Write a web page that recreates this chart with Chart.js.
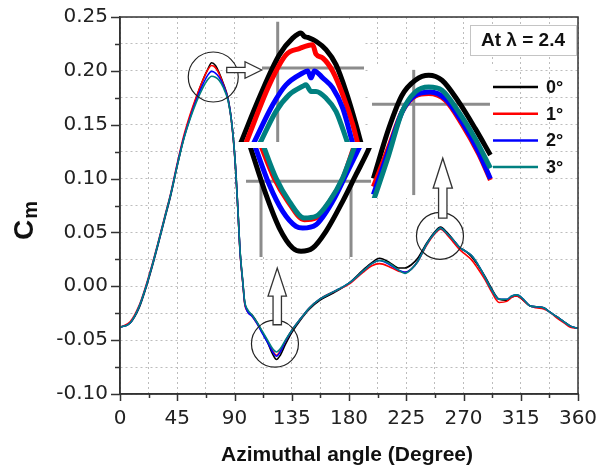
<!DOCTYPE html>
<html>
<head>
<meta charset="utf-8">
<title>Cm vs azimuthal angle</title>
<script src="https://cdn.jsdelivr.net/npm/chart.js@4.4.1/dist/chart.umd.min.js"></script>
<style>
  body { margin: 0; background: #fff; }
  #wrap { position: relative; width: 596px; height: 468px; }
  #wrap canvas { position: absolute; left: 0; top: 0; }
</style>
</head>
<body>
<div id="wrap">
  <canvas id="cmChart" width="596" height="468"></canvas>
  <canvas id="peakInset"></canvas>
  <canvas id="troughInset"></canvas>
  <canvas id="humpInset"></canvas>
</div>
<script>
// Moment coefficient over one revolution, four pitch angles
const angles = [
  0, 8, 15, 20, 25, 30, 35, 40, 45, 50, 55, 60,
  65, 69, 72, 75, 78, 81, 85, 88, 90.5, 92.5, 94.5, 96.5,
  98, 100, 104, 108, 112, 116, 120, 123, 126, 130, 135, 142,
  149, 157, 168, 180, 191, 198, 204, 212, 219, 224, 229, 234,
  241, 247, 252, 257, 262, 267, 271, 276, 281, 287, 292, 298,
  304, 308, 312, 317, 322, 327, 333, 338, 343, 349, 354, 360
];
const cm0 = [
  -0.038, -0.034, -0.020, -0.003, 0.017, 0.039, 0.062, 0.085, 0.112, 0.137, 0.157, 0.175,
  0.191, 0.2015, 0.2075, 0.205, 0.198, 0.189, 0.174, 0.150, 0.116, 0.075, 0.030, 0.004,
  -0.015, -0.022, -0.027, -0.034, -0.043, -0.052, -0.063, -0.068, -0.064, -0.054, -0.043, -0.031,
  -0.021, -0.013, -0.006, 0.003, 0.015, 0.022, 0.026, 0.022, 0.017, 0.017, 0.020, 0.026,
  0.040, 0.050, 0.055, 0.050, 0.043, 0.036, 0.033, 0.028, 0.020, 0.009, -0.002, -0.012,
  -0.013, -0.010, -0.009, -0.013, -0.018, -0.019, -0.020, -0.024, -0.028, -0.033, -0.037, -0.039
];
const cm1 = [
  -0.038, -0.033, -0.018, -0.001, 0.019, 0.041, 0.064, 0.087, 0.114, 0.139, 0.159, 0.176,
  0.191, 0.201, 0.205, 0.203, 0.197, 0.188, 0.173, 0.149, 0.115, 0.074, 0.029, 0.003,
  -0.016, -0.023, -0.028, -0.035, -0.043, -0.051, -0.060, -0.064, -0.060, -0.051, -0.041, -0.030,
  -0.020, -0.012, -0.005, 0.002, 0.013, 0.019, 0.021, 0.018, 0.014, 0.013, 0.016, 0.023,
  0.038, 0.048, 0.053, 0.048, 0.041, 0.034, 0.030, 0.025, 0.017, 0.006, -0.005, -0.015,
  -0.014, -0.010, -0.009, -0.013, -0.018, -0.020, -0.021, -0.024, -0.029, -0.034, -0.038, -0.039
];
const cm2 = [
  -0.038, -0.034, -0.019, -0.002, 0.018, 0.040, 0.063, 0.086, 0.113, 0.137, 0.156, 0.173,
  0.187, 0.196, 0.1995, 0.198, 0.194, 0.187, 0.173, 0.150, 0.116, 0.075, 0.030, 0.004,
  -0.015, -0.023, -0.028, -0.035, -0.044, -0.052, -0.061, -0.065, -0.061, -0.051, -0.041, -0.030,
  -0.020, -0.012, -0.005, 0.003, 0.014, 0.021, 0.024, 0.020, 0.015, 0.013, 0.016, 0.023,
  0.039, 0.049, 0.054, 0.049, 0.043, 0.036, 0.033, 0.029, 0.021, 0.008, -0.003, -0.012,
  -0.012, -0.009, -0.008, -0.012, -0.018, -0.019, -0.020, -0.024, -0.028, -0.033, -0.037, -0.039
];
const cm3 = [
  -0.038, -0.034, -0.019, -0.002, 0.018, 0.040, 0.063, 0.086, 0.112, 0.136, 0.155, 0.171,
  0.184, 0.192, 0.195, 0.194, 0.191, 0.185, 0.172, 0.150, 0.116, 0.075, 0.031, 0.005,
  -0.014, -0.021, -0.027, -0.034, -0.042, -0.050, -0.058, -0.061, -0.058, -0.050, -0.041, -0.030,
  -0.020, -0.012, -0.005, 0.003, 0.014, 0.021, 0.024, 0.021, 0.015, 0.012, 0.016, 0.023,
  0.039, 0.049, 0.054, 0.049, 0.043, 0.036, 0.033, 0.029, 0.021, 0.008, -0.003, -0.012,
  -0.012, -0.009, -0.008, -0.012, -0.018, -0.019, -0.020, -0.024, -0.028, -0.033, -0.037, -0.039
];

const seriesLabels = ['0°', '1°', '2°', '3°'];
const seriesColors = ['#000000', '#ff0000', '#0000ff', '#008080'];
const xTickLabels = [0, 45, 90, 135, 180, 225, 270, 315, 360];
const yTickLabels = [-0.10, -0.05, 0.00, 0.05, 0.10, 0.15, 0.20, 0.25];

// close-up of the first peak
const peakX0 = [64.35, 67.14, 69.9, 71.81, 73.0, 73.47, 73.96, 75.14, 76.57, 78.0, 79.43, 80.86, 81.6];
const peakY0 = [0.1745, 0.1882, 0.2000, 0.2048, 0.2063, 0.2053, 0.2050, 0.2039, 0.2015, 0.1972, 0.1895, 0.1800, 0.1745];
const peakX1 = [65.1, 68.47, 70.86, 72.76, 74.67, 75.14, 76.1, 77.53, 78.96, 80.39, 81.1];
const peakY1 = [0.1745, 0.1914, 0.2000, 0.2018, 0.2029, 0.2002, 0.1991, 0.1953, 0.1886, 0.1800, 0.1745];
const peakX2 = [66.2, 68.96, 70.86, 73.24, 73.96, 74.43, 74.9, 76.1, 77.53, 78.96, 80.4];
const peakY2 = [0.1745, 0.1857, 0.1914, 0.1948, 0.1954, 0.1934, 0.1954, 0.1934, 0.1905, 0.1847, 0.1745];
const peakX3 = [67.1, 69.43, 71.33, 73.24, 73.71, 74.43, 75.14, 76.57, 78.0, 79.7];
const peakY3 = [0.1745, 0.1838, 0.1886, 0.1910, 0.1914, 0.1895, 0.1895, 0.1876, 0.1838, 0.1745];

// close-up of the trough
const troughX0 = [113.7, 116.47, 118.67, 120.88, 122.26, 124.19, 126.39, 129.15, 131.35, 133.29, 134.2];
const troughY0 = [-0.0485, -0.05777, -0.06383, -0.06747, -0.06807, -0.06747, -0.06443, -0.05897, -0.05413, -0.04987, -0.0475];
const troughX1 = [115.5, 117.8, 120.1, 122.8, 124.74, 126.94, 129.15, 130.85, 131.2];
const troughY1 = [-0.0485, -0.0547, -0.0590, -0.06232, -0.06201, -0.0591, -0.0549, -0.0496, -0.0485];
const troughX2 = [114.5, 117.01, 119.23, 121.43, 122.54, 124.74, 127.5, 129.7, 132.2];
const troughY2 = [-0.0485, -0.05595, -0.06079, -0.06352, -0.06383, -0.06323, -0.05897, -0.05413, -0.0485];
const troughX3 = [115.9, 118.12, 120.32, 122.8, 124.74, 126.94, 129.15, 130.53, 131.3];
const troughY3 = [-0.0485, -0.05473, -0.05897, -0.06201, -0.0617, -0.05897, -0.05473, -0.05078, -0.0485];

// close-up of the second peak
const humpX0 = [241.9, 244.45, 246.67, 248.88, 251.12, 253.33, 256.12, 258.88, 261.4];
const humpY0 = [0.0340, 0.04418, 0.05101, 0.05408, 0.0551, 0.05408, 0.04964, 0.04418, 0.0388];
const humpX1 = [241.9, 244.45, 246.67, 248.88, 251.12, 253.88, 256.67, 259.45, 261.4];
const humpY1 = [0.0323, 0.0404, 0.0476, 0.05087, 0.05135, 0.0500, 0.0451, 0.0390, 0.0337];
const humpX2 = [241.9, 244.45, 246.67, 248.88, 251.38, 253.88, 256.67, 259.45, 261.4];
const humpY2 = [0.0307, 0.03972, 0.04759, 0.05101, 0.05168, 0.05031, 0.04555, 0.0394, 0.03394];
const humpX3 = [241.9, 244.45, 246.67, 248.88, 251.12, 253.33, 256.12, 258.88, 261.4];
const humpY3 = [0.0294, 0.03875, 0.04759, 0.05168, 0.0527, 0.05203, 0.04759, 0.04213, 0.0361];

// inset boxes on the page and the window each one shows
const panels = {
  peak:   { id: 'peakInset',   left: 238, top: 20,  width: 126, height: 122, padTop: 0, x: [64, 82],   y: [0.175, 0.210] },
  trough: { id: 'troughInset', left: 239, top: 141, width: 133, height: 116, padTop: 7, x: [112, 134], y: [-0.0691, -0.04927] },
  hump:   { id: 'humpInset',   left: 368, top: 64,  width: 126, height: 134, padTop: 0, x: [241, 262], y: [0.0300, 0.0574] }
};

// circles and arrows marking the zoomed spots (centre / ends in data units)
const rings = [
  { x: 73.3, y: 0.1943, r: 25 },
  { x: 121.8, y: -0.0533, r: 23.5 },
  { x: 251.5, y: 0.0468, r: 23.5 }
];
const pointers = [
  { x0: 83.9, y0: 0.2008, x1: 111.4, y1: 0.2008, shaft: 2.7, head: 8.3, headLen: 16.7 },
  { x0: 123.6, y0: -0.0357, x1: 123.6, y1: 0.0169, shaft: 4.2, head: 9.2, headLen: 28 },
  { x0: 253.7, y0: 0.0633, x1: 253.7, y1: 0.1189, shaft: 4.2, head: 9.6, headLen: 30 }
];

const isMajor = (list, v) => list.some(t => Math.abs(t - v) < 1e-9);

function outlineArrow(ctx, x0, y0, x1, y1, shaft, head, headLen) {
  const len = Math.hypot(x1 - x0, y1 - y0);
  const ux = (x1 - x0) / len, uy = (y1 - y0) / len;
  const nx = -uy, ny = ux;
  const bx = x1 - ux * headLen, by = y1 - uy * headLen;
  const pts = [
    [x0 + nx * shaft, y0 + ny * shaft],
    [bx + nx * shaft, by + ny * shaft],
    [bx + nx * head, by + ny * head],
    [x1, y1],
    [bx - nx * head, by - ny * head],
    [bx - nx * shaft, by - ny * shaft],
    [x0 - nx * shaft, y0 - ny * shaft]
  ];
  ctx.beginPath();
  pts.forEach((p, i) => i ? ctx.lineTo(p[0], p[1]) : ctx.moveTo(p[0], p[1]));
  ctx.closePath();
  ctx.fillStyle = '#fff';
  ctx.fill();
  ctx.stroke();
}

const decorations = {
  id: 'decorations',
  beforeDatasetsDraw(chart) {
    // white backing for the insets
    const ctx = chart.ctx;
    ctx.save();
    ctx.fillStyle = '#fff';
    Object.values(panels).forEach(p => ctx.fillRect(p.left, p.top, p.width, p.height));
    ctx.restore();
  },
  afterDatasetsDraw(chart) {
    const { ctx, chartArea: a, scales: { x, y } } = chart;
    ctx.save();

    // frame and tick marks
    ctx.strokeStyle = '#333';
    ctx.lineWidth = 1.5;
    ctx.strokeRect(a.left, a.top, a.right - a.left, a.bottom - a.top);
    ctx.beginPath();
    x.ticks.forEach(t => {
      const px = Math.round(x.getPixelForValue(t.value)) + 0.5;
      const len = isMajor(xTickLabels, t.value) ? 7 : 4;
      ctx.moveTo(px, a.bottom);
      ctx.lineTo(px, a.bottom + len);
    });
    y.ticks.forEach(t => {
      const py = Math.round(y.getPixelForValue(t.value)) + 0.5;
      const len = isMajor(yTickLabels, t.value) ? 9 : 5;
      ctx.moveTo(a.left, py);
      ctx.lineTo(a.left - len, py);
    });
    ctx.stroke();

    // circles round the zoomed spots
    ctx.strokeStyle = '#222';
    ctx.lineWidth = 1.2;
    rings.forEach(c => {
      ctx.beginPath();
      ctx.arc(x.getPixelForValue(c.x), y.getPixelForValue(c.y), c.r, 0, Math.PI * 2);
      ctx.stroke();
    });

    // hollow arrows
    ctx.strokeStyle = '#333';
    ctx.lineWidth = 1.3;
    ctx.lineJoin = 'miter';
    pointers.forEach(p => outlineArrow(ctx,
      x.getPixelForValue(p.x0), y.getPixelForValue(p.y0),
      x.getPixelForValue(p.x1), y.getPixelForValue(p.y1),
      p.shaft, p.head, p.headLen));

    // tip-speed-ratio box
    ctx.fillStyle = '#fff';
    ctx.fillRect(470, 25, 107, 30);
    ctx.strokeStyle = '#c4c4c4';
    ctx.lineWidth = 1;
    ctx.strokeRect(470.5, 25.5, 106, 30);
    ctx.fillStyle = '#111';
    ctx.font = 'bold 19px "Liberation Sans", Arial, sans-serif';
    ctx.textAlign = 'center';
    ctx.textBaseline = 'middle';
    ctx.fillText('At λ = 2.4', 523, 41);

    // legend
    ctx.textAlign = 'left';
    ctx.font = 'bold 18px "Liberation Sans", Arial, sans-serif';
    chart.data.datasets.forEach((ds, i) => {
      const ly = 87 + i * 26.7;
      ctx.strokeStyle = ds.borderColor;
      ctx.lineWidth = 2.5;
      ctx.beginPath();
      ctx.moveTo(493, ly);
      ctx.lineTo(538, ly);
      ctx.stroke();
      ctx.fillStyle = '#111';
      ctx.fillText(ds.label, 546, ly + 1);
    });

    // axis titles
    ctx.fillStyle = '#111';
    ctx.textAlign = 'center';
    ctx.textBaseline = 'alphabetic';
    ctx.font = 'bold 21px "Liberation Sans", Arial, sans-serif';
    ctx.fillText('Azimuthal angle (Degree)', 347, 461);

    ctx.translate(33, 226);
    ctx.rotate(-Math.PI / 2);
    ctx.textAlign = 'left';
    ctx.font = 'bold 28px "Liberation Sans", Arial, sans-serif';
    const cw = ctx.measureText('C').width;
    ctx.fillText('C', -14, 0);
    ctx.font = 'bold 20px "Liberation Sans", Arial, sans-serif';
    ctx.fillText('m', -14 + cw + 1, 4);
    ctx.restore();
  }
};

new Chart(document.getElementById('cmChart'), {
  type: 'line',
  data: {
    datasets: [cm0, cm1, cm2, cm3].map((vals, k) => ({
      label: seriesLabels[k],
      data: angles.map((a, i) => ({ x: a, y: vals[i] })),
      borderColor: seriesColors[k],
      borderWidth: 1.6,
      pointRadius: 0,
      cubicInterpolationMode: 'monotone',
      order: 4 - k
    }))
  },
  options: {
    responsive: false,
    animation: false,
    events: [],
    devicePixelRatio: 1,
    layout: { padding: { top: 17, right: 18, left: 0, bottom: 0 } },
    scales: {
      x: {
        type: 'linear',
        min: 0, max: 360,
        afterFit: s => { s.height = 74; s.paddingLeft = 0; s.paddingRight = 0; },
        grid: { color: '#bdbdbd', lineWidth: 1, drawTicks: false },
        border: { display: true, color: '#333', width: 1.5, dash: [2, 3] },
        ticks: {
          stepSize: 22.5, autoSkip: false, maxRotation: 0, padding: 13,
          color: '#222', font: { family: 'DejaVu Sans', size: 20 },
          callback: v => isMajor(xTickLabels, v) ? String(v) : ''
        }
      },
      y: {
        min: -0.10, max: 0.25,
        afterFit: s => { s.width = 120; s.paddingTop = 0; s.paddingBottom = 0; },
        grid: { color: '#bdbdbd', lineWidth: 1, drawTicks: false },
        border: { display: true, color: '#333', width: 1.5, dash: [2, 3] },
        ticks: {
          stepSize: 0.025, autoSkip: false, padding: 12,
          color: '#222', font: { family: 'DejaVu Sans', size: 20 },
          callback: v => isMajor(yTickLabels, v) ? (Math.abs(v) < 1e-9 ? 0 : v).toFixed(2) : ''
        }
      }
    },
    plugins: { legend: { display: false }, tooltip: { enabled: false } }
  },
  plugins: [decorations]
});

// grey reference lines inside an inset, ends given in data units
function guideLines(lines) {
  return {
    id: 'guides',
    beforeDatasetsDraw(chart) {
      const { ctx, scales: { x, y } } = chart;
      ctx.save();
      ctx.strokeStyle = '#8c8c8c';
      ctx.lineWidth = 3;
      lines.forEach(g => {
        ctx.beginPath();
        ctx.moveTo(x.getPixelForValue(g[0]), y.getPixelForValue(g[1]));
        ctx.lineTo(x.getPixelForValue(g[2]), y.getPixelForValue(g[3]));
        ctx.stroke();
      });
      ctx.restore();
    }
  };
}

function makeInset(panel, xs, ys, lines) {
  const canvas = document.getElementById(panel.id);
  canvas.width = panel.width;
  canvas.height = panel.height;
  canvas.style.left = panel.left + 'px';
  canvas.style.top = panel.top + 'px';
  new Chart(canvas, {
    type: 'line',
    data: {
      datasets: xs.map((xv, k) => ({
        data: xv.map((a, i) => ({ x: a, y: ys[k][i] })),
        borderColor: seriesColors[k],
        borderWidth: 5,
        pointRadius: 0,
        cubicInterpolationMode: 'monotone',
        order: 4 - k
      }))
    },
    options: {
      responsive: false,
      animation: false,
      events: [],
      devicePixelRatio: 1,
      layout: { padding: { top: panel.padTop, left: 0, right: 0, bottom: 0 } },
      scales: {
        x: { type: 'linear', display: false, min: panel.x[0], max: panel.x[1] },
        y: { display: false, min: panel.y[0], max: panel.y[1] }
      },
      plugins: { legend: { display: false }, tooltip: { enabled: false } }
    },
    plugins: [guideLines(lines)]
  });
}

makeInset(panels.peak,
  [peakX0, peakX1, peakX2, peakX3], [peakY0, peakY1, peakY2, peakY3],
  [[69.67, 0.175, 69.67, 0.2095], [67.43, 0.1962, 82, 0.1962]]);
makeInset(panels.trough,
  [troughX0, troughX1, troughX2, troughX3], [troughY0, troughY1, troughY2, troughY3],
  [[113.16, -0.05533, 133.84, -0.05533], [115.64, -0.05533, 115.64, -0.0691], [130.53, -0.05533, 130.53, -0.0691]]);
makeInset(panels.hump,
  [humpX0, humpX1, humpX2, humpX3], [humpY0, humpY1, humpY2, humpY3],
  [[241.67, 0.04917, 261.33, 0.04917], [248.62, 0.0306, 248.62, 0.0562]]);
</script>
</body>
</html>
